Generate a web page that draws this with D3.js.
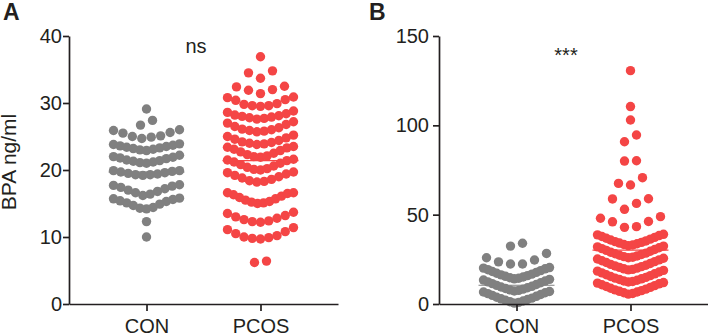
<!DOCTYPE html>
<html>
<head>
<meta charset="utf-8">
<script src="https://cdn.jsdelivr.net/npm/d3@7"></script>
<style>
  body { margin: 0; background: #fff; }
  text { font-family: "Liberation Sans", Arial, sans-serif; fill: #231f20; }
</style>
</head>
<body>
<div id="main"></div>
<script>
// categories and tick labels
const groups = ["CON", "PCOS"];
const ticksA = [0, 10, 20, 30, 40];
const ticksB = [0, 50, 100, 150];

// panel A: BPA ng/ml, one value per subject
const conA = [
  10.0, 12.3,
  14.2, 14.3, 14.4, 14.7, 14.9, 15.1, 15.3, 15.4, 15.6, 15.7, 15.8,
  16.2, 16.4, 16.6, 16.8, 17.0, 17.2, 17.4, 17.6, 17.7, 17.8,
  19.2, 19.3, 19.3, 19.4, 19.5, 19.6, 19.7, 19.8, 19.9, 19.9,
  21.0, 21.1, 21.2, 21.3, 21.4, 21.5, 21.7, 21.8, 21.9, 22.0, 22.2,
  22.9, 23.0, 23.1, 23.2, 23.3, 23.4, 23.5, 23.6, 23.7, 23.8, 23.9,
  24.7, 24.9, 25.0, 25.1, 25.5, 25.6, 25.9, 26.0,
  26.7, 27.4,
  29.1
];
const pcosA = [
  6.2, 6.4,
  9.7, 9.8, 9.9, 10.0, 10.2, 10.5, 10.8, 11.1, 11.4,
  12.2, 12.3, 12.4, 12.6, 12.8, 13.0, 13.2, 13.5, 13.7,
  15.0, 15.1, 15.2, 15.3, 15.5, 15.7, 15.9, 16.1, 16.3, 16.5, 16.6, 16.6,
  18.2, 18.3, 18.4, 18.6, 18.8, 19.0, 19.2, 19.4, 19.6, 19.7,
  20.0, 20.1, 20.2, 20.4, 20.6, 20.8, 21.0, 21.2, 21.4, 21.5, 21.6,
  21.9, 22.0, 22.1, 22.3, 22.5, 22.7, 22.9, 23.1, 23.3, 23.4, 23.5,
  23.8, 23.9, 24.0, 24.1, 24.2, 24.4, 24.6, 24.8, 25.0, 25.2,
  25.7, 25.8, 25.9, 26.0, 26.1, 26.3, 26.5, 26.8, 27.0, 27.2,
  27.6, 27.7, 27.8, 27.9, 28.0, 28.1, 28.2, 28.4, 28.6, 28.8,
  29.5, 29.6, 29.6, 29.8, 29.9, 30.4, 30.5, 30.8, 30.9,
  31.4, 31.9, 32.0, 32.4, 32.5,
  33.7, 34.5, 34.8,
  36.9
];
// panel B
const conB = [
  0.5, 0.9, 1.3, 1.7, 2.1, 2.5, 2.9, 3.3, 3.8, 4.3, 4.8, 5.3, 5.8, 6.3, 6.7, 7.0,
  7.3, 7.6, 7.9, 8.3, 8.7, 9.1, 9.5, 9.9, 10.4, 10.9, 11.4, 11.9, 12.4, 12.9, 13.4, 13.8,
  14.1, 14.4, 14.7, 15.1, 15.5, 15.9, 16.3, 16.7, 17.2, 17.7, 18.2, 18.7, 19.2, 19.7, 20.1, 20.4,
  22.4, 22.4, 23.6, 24.6, 25.9, 28.3,
  32.4, 34.0
];
const pcosB = [
  5.5, 5.9, 6.3, 6.7, 7.1, 7.5, 7.9, 8.3, 8.8, 9.3, 9.8, 10.3, 10.8, 11.3, 11.7, 12.0,
  12.3, 12.6, 12.9, 13.3, 13.7, 14.1, 14.5, 14.9, 15.4, 15.9, 16.4, 16.9, 17.4, 17.9, 18.4, 18.8,
  19.1, 19.4, 19.7, 20.1, 20.5, 20.9, 21.3, 21.7, 22.2, 22.7, 23.2, 23.7, 24.2, 24.7, 25.2, 25.6,
  25.9, 26.2, 26.5, 26.9, 27.3, 27.7, 28.1, 28.5, 29.0, 29.5, 30.0, 30.5, 31.0, 31.5, 32.0, 32.4,
  32.7, 33.0, 33.3, 33.7, 34.1, 34.5, 34.9, 35.3, 35.8, 36.3, 36.8, 37.3, 37.8, 38.3, 38.7, 39.0,
  42.9, 43.3, 46.0, 46.2, 48.0, 48.9,
  53.0, 56.3, 58.8, 58.9,
  66.6, 67.5, 70.7,
  80.0, 80.2,
  90.8, 94.6,
  103.0, 110.5, 130.6
];
// group means as drawn on the chart
const meansA = [19.7, 21.4];
const meansB = [10.5, 30.2];

const ctx = {
  w: 708, h: 334,
  top: 36, bottom: 304,
  R: 4.7, BIN: 12, STEP: 12, HALF: 33, MEANHALF: 38,
  colors: {CON: "#808080", PCOS: "#f44545"},
};

// Prism-like scatter: bin values into rows, lowest values nearest the centre
function dotLayout(values, y){
  const sorted = values.slice().sort((a, b) => a - b);
  const rows = [];
  let cur = null;
  sorted.forEach(v => {
    if (!cur || y(cur.start) - y(v) >= ctx.BIN - 1e-6){
      cur = {start: v, vals: []};
      rows.push(cur);
    }
    cur.vals.push(v);
  });
  const pts = [];
  rows.forEach(r => {
    const n = r.vals.length;
    const step = n > 1 ? Math.min(ctx.STEP, 2 * ctx.HALF / (n - 1)) : 0;
    const slots = d3.range(n).map(k => (k - (n - 1) / 2) * step)
                    .sort((a, b) => Math.abs(a) - Math.abs(b) || a - b);
    r.vals.forEach((v, i) => pts.push({v: v, dx: slots[i]}));
  });
  return pts;
}

function drawPanel(svg, cfg){
  const g = svg.append("g");
  const x = d3.scalePoint().domain(groups).range([cfg.x0, cfg.x1]).padding(0.68);
  const y = d3.scaleLinear().domain(cfg.domain).range([ctx.bottom, ctx.top]);

  // dots
  groups.forEach((grp, i) => {
    const pts = dotLayout(cfg.data[i], y);
    g.append("g").selectAll("circle")
      .data(pts)
      .enter()
      .append("circle")
      .attr("cx", d => x(grp) + d.dx)
      .attr("cy", d => y(d.v))
      .attr("r", ctx.R)
      .attr("fill", ctx.colors[grp]);
    // mean line
    g.append("line")
      .attr("x1", x(grp) - ctx.MEANHALF)
      .attr("x2", x(grp) + ctx.MEANHALF)
      .attr("y1", y(cfg.means[i]))
      .attr("y2", y(cfg.means[i]))
      .attr("stroke", ctx.colors[grp])
      .attr("stroke-width", 1.2);
  });

  // y axis
  const ya = g.append("g")
    .attr("transform", `translate(${cfg.x0},0)`)
    .call(d3.axisLeft(y).tickValues(cfg.ticks).tickSize(6).tickSizeOuter(0).tickPadding(cfg.pad));
  // x axis
  const xa = g.append("g")
    .attr("transform", `translate(0,${ctx.bottom})`)
    .call(d3.axisBottom(x).tickSize(7).tickSizeOuter(0).tickPadding(8));
  [ya, xa].forEach(a => {
    a.select(".domain").attr("stroke", "#231f20").attr("stroke-width", 1.7);
    a.selectAll(".tick line").attr("stroke", "#231f20").attr("stroke-width", 1.7);
    a.selectAll("text").style("font-size", "20px").attr("fill", "#231f20")
      .style("font-family", '"Liberation Sans", Arial, sans-serif');
  });

  // panel letter
  svg.append("text")
    .attr("x", cfg.letterX).attr("y", 20)
    .style("font-size", "23px").style("font-weight", "bold")
    .text(cfg.letter);
  // significance mark
  svg.append("text")
    .attr("x", cfg.sigX).attr("y", cfg.sigY)
    .attr("text-anchor", "middle")
    .style("font-size", "20px")
    .text(cfg.sig);
}

function createViz(){
  const svg = d3.select("#main").append("svg")
    .attr("width", ctx.w).attr("height", ctx.h);

  drawPanel(svg, {x0: 69, x1: 338, domain: [0, 40], ticks: ticksA, pad: 1,
                  data: [conA, pcosA], means: meansA,
                  letter: "A", letterX: 3, sig: "ns", sigX: 196, sigY: 53});
  drawPanel(svg, {x0: 439, x1: 708, domain: [0, 150], ticks: ticksB, pad: 4,
                  data: [conB, pcosB], means: meansB,
                  letter: "B", letterX: 369, sig: "***", sigX: 566, sigY: 62});

  // y axis label
  svg.append("text")
    .attr("transform", "translate(16,162) rotate(-90)")
    .attr("text-anchor", "middle")
    .style("font-size", "21px")
    .text("BPA ng/ml");
}

createViz();
</script>
</body>
</html>
